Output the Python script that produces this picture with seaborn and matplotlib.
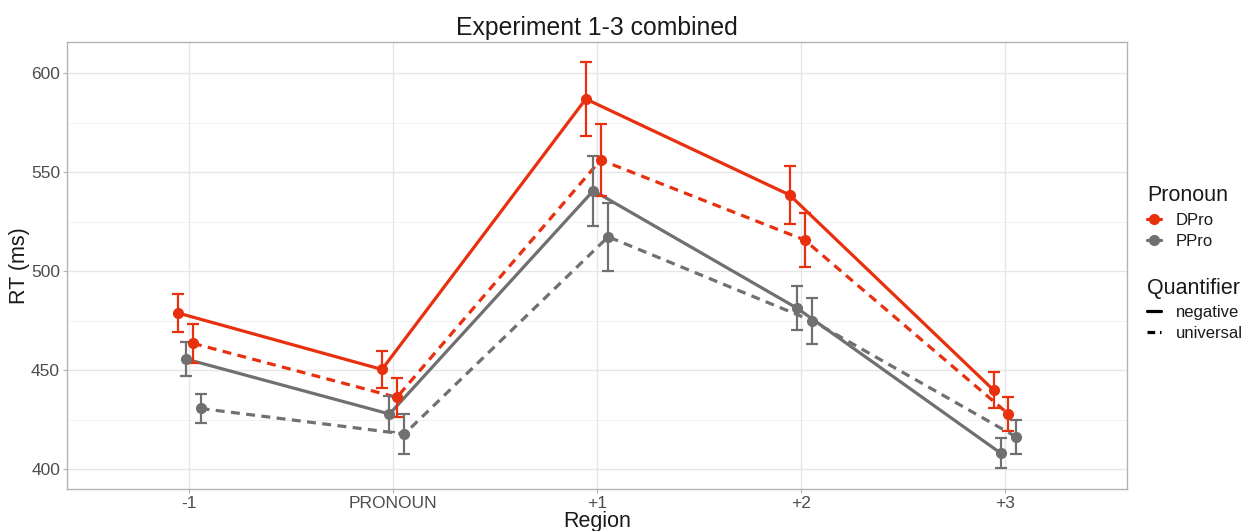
import numpy as np
import pandas as pd
import matplotlib.pyplot as plt
import seaborn as sns
from matplotlib.lines import Line2D

# Data (mean RT and standard error per condition)
regions = ['-1', 'PRONOUN', '+1', '+2', '+3']
dpro_negative = [478.8, 450.3, 586.9, 538.4, 439.9]
dpro_negative_se = [9.6, 9.5, 18.8, 14.5, 9.2]
dpro_universal = [463.5, 436.2, 556.1, 515.7, 427.8]
dpro_universal_se = [9.8, 9.8, 18.0, 13.5, 8.6]
ppro_negative = [455.6, 427.8, 540.6, 481.2, 407.9]
ppro_negative_se = [8.8, 9.3, 17.7, 11.0, 7.6]
ppro_universal = [430.6, 417.7, 517.3, 474.9, 416.3]
ppro_universal_se = [7.4, 10.0, 17.3, 11.5, 8.6]

# Build a long table
rows = []
series = [
    ('DPro', 'negative', dpro_negative, dpro_negative_se),
    ('PPro', 'negative', ppro_negative, ppro_negative_se),
    ('DPro', 'universal', dpro_universal, dpro_universal_se),
    ('PPro', 'universal', ppro_universal, ppro_universal_se),
]
for pron, quant, vals, ses in series:
    for i, reg in enumerate(regions):
        rows.append({'Region': reg, 'pos': i, 'Pronoun': pron,
                     'Quantifier': quant, 'RT': vals[i], 'se': ses[i]})
df = pd.DataFrame(rows)

colors = {'DPro': '#E8300E', 'PPro': '#707070'}
dash = {'negative': '', 'universal': (2.8, 2.0)}
# dodge offsets, same order as series above
offsets = [-0.055, -0.018, 0.018, 0.055]

sns.set_theme(style='white')
plt.rcParams['font.family'] = ['Liberation Sans', 'DejaVu Sans']

fig = plt.figure(figsize=(12.52, 5.31), dpi=100)
ax = fig.add_axes([0.0535, 0.079, 0.8467, 0.842])

# gridlines like ggplot theme_light
for v in [400, 450, 500, 550, 600]:
    ax.axhline(v, color='#E6E6E6', lw=1.0, zorder=0)
for v in [425, 475, 525, 575]:
    ax.axhline(v, color='#F2F2F2', lw=0.7, zorder=0)
for i in range(len(regions)):
    ax.axvline(i, color='#E6E6E6', lw=1.0, zorder=0)

for k, (pron, quant, vals, ses) in enumerate(series):
    sub = df[(df['Pronoun'] == pron) & (df['Quantifier'] == quant)].copy()
    sub['x'] = sub['pos'] + offsets[k]
    sns.lineplot(data=sub, x='x', y='RT', color=colors[pron], lw=2.3,
                 dashes=False, ax=ax, zorder=3)
    if quant == 'universal':
        ax.lines[-1].set_dashes(dash[quant])
    ax.errorbar(sub['x'], sub['RT'], yerr=sub['se'], fmt='o',
                color=colors[pron], ms=7, elinewidth=1.6, capsize=4.5,
                capthick=1.6, zorder=4)

ax.set_xlim(-0.6, 4.6)
ax.set_ylim(389.9, 615.7)
ax.set_xticks(range(len(regions)))
ax.set_xticklabels(regions)
ax.set_yticks([400, 450, 500, 550, 600])
ax.tick_params(axis='both', which='major', length=3, width=0.8,
               color='#B3B3B3', labelsize=12.5, labelcolor='#4D4D4D', pad=2,
               bottom=True, left=True)
for sp in ax.spines.values():
    sp.set_color('#B3B3B3')
    sp.set_linewidth(1.0)

ax.set_xlabel('Region', fontsize=15.5, color='#1A1A1A')
ax.set_ylabel('RT (ms)', fontsize=15.5, color='#1A1A1A')
ax.xaxis.set_label_coords(0.5, -0.048)
ax.yaxis.set_label_coords(-0.035, 0.5)
ax.set_title('Experiment 1-3 combined', fontsize=17.8, color='#1A1A1A', pad=5)

# two legends: colour (Pronoun) and linetype (Quantifier)
pron_handles = [Line2D([0], [0], color=colors[p], marker='o', ms=7, lw=2.3)
                for p in ['DPro', 'PPro']]
leg1 = fig.legend(pron_handles, ['DPro', 'PPro'], title='Pronoun',
                  loc='upper left', bbox_to_anchor=(0.904, 0.68),
                  frameon=False, fontsize=12, title_fontsize=15.5,
                  handlelength=0.85, handletextpad=0.9, labelspacing=0.4,
                  alignment='left')
quant_handles = [Line2D([0], [0], color='black', lw=2.3),
                 Line2D([0], [0], color='black', lw=2.3, dashes=(2.4, 1.5))]
leg2 = fig.legend(quant_handles, ['negative', 'universal'], title='Quantifier',
                  loc='upper left', bbox_to_anchor=(0.904, 0.505),
                  frameon=False, fontsize=12, title_fontsize=15.5,
                  handlelength=0.85, handletextpad=0.9, labelspacing=0.35,
                  alignment='left')
for leg in (leg1, leg2):
    for t in leg.get_texts():
        t.set_color('#1A1A1A')
    leg.get_title().set_color('#1A1A1A')

fig.savefig('out.png', dpi=100)
